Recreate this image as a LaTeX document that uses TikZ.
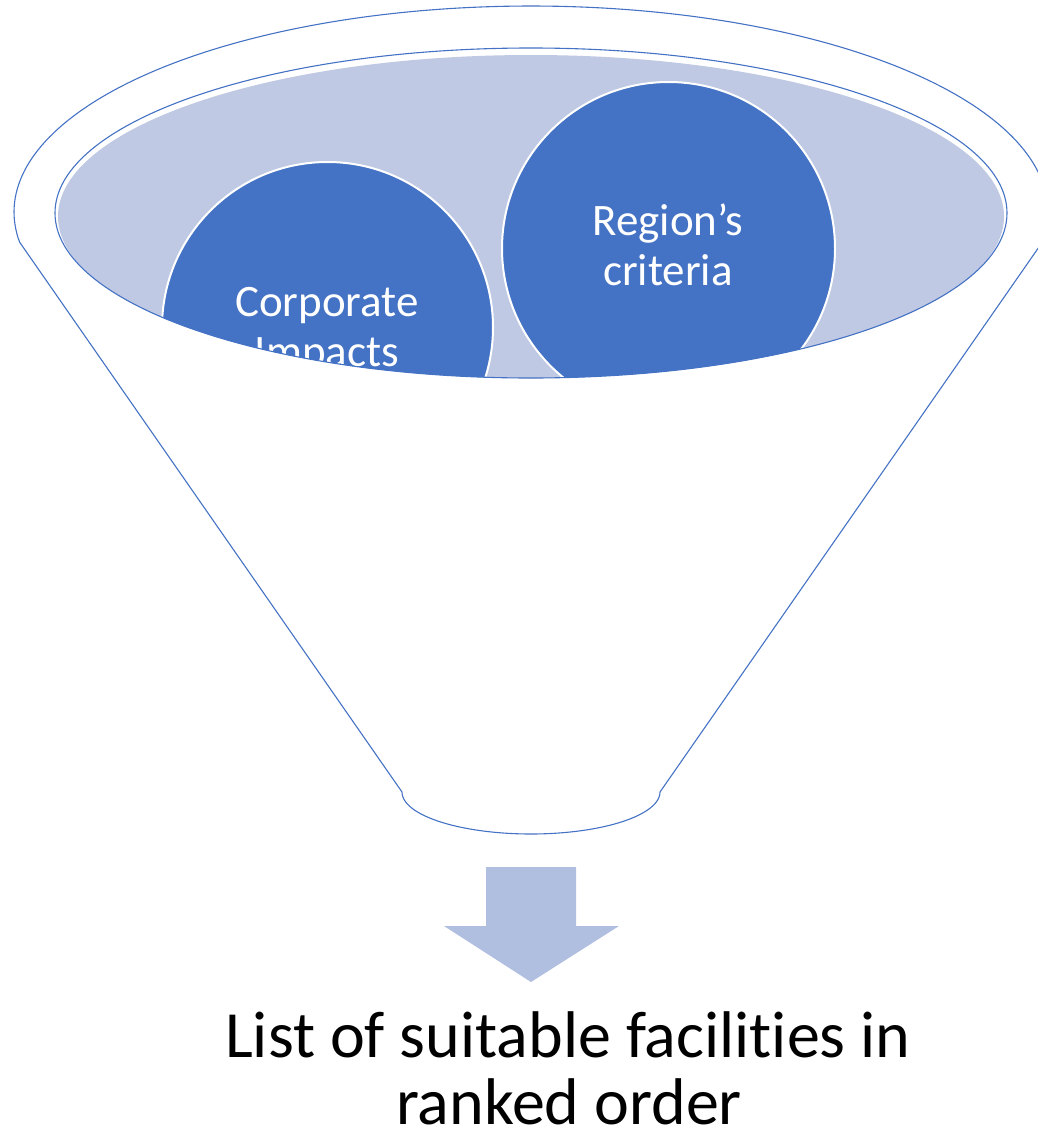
\documentclass[tikz,border=0pt]{standalone}
\usepackage{fontspec}
\setmainfont[Ligatures={NoCommon},RawFeature={-liga;-clig;-dlig}]{Carlito}
\definecolor{accent}{HTML}{4472C4}
\definecolor{lightfill}{HTML}{BFC9E3}
\definecolor{arrowfill}{HTML}{B0BEE0}
\tikzset{
  funnelline/.style={draw=accent, line width=1.1pt, line join=round},
  circstyle/.style={circle, fill=accent, draw=white, line width=2pt, inner sep=0pt},
  circtext/.style={text=white, inner sep=0pt, anchor=base, font=\fontsize{45}{50}\selectfont},
  captext/.style={text=black, inner sep=0pt, anchor=base, font=\fontsize{66}{70}\selectfont}
}
\begin{document}
\begin{tikzpicture}[x=1pt,y=-1pt]
\useasboundingbox (0,0) rectangle (1038,1135);
% outer funnel
\draw[funnelline] (402,792) -- (19.5,242)
  -- plot[domain=171.63:368.37, samples=160, variable=\t] ({531+517*cos(\t)},{212+206*sin(\t)})
  -- (660,792)
  -- plot[domain=0:180, samples=80, variable=\t] ({531+129*cos(\t)},{792+42*sin(\t)})
  -- cycle;
% inner rim
\fill[white] (531,213) ellipse [x radius=476pt, y radius=165pt];
\fill[lightfill] (531,216.5) ellipse [x radius=473pt, y radius=161.5pt];
\begin{scope}
  \clip (531,213) ellipse [x radius=476pt, y radius=165pt];
  \node[circstyle, minimum size=331pt] (corp) at (327.5,327.5) {};
  \node[circstyle, minimum size=333pt] (region) at (668.5,248.5) {};
  \node[circtext] (corp1) at (327,316) {Corporate};
  \node[circtext] (corp2) at (327,366) {Impacts};
  \node[circtext] (reg1) at (668,235) {Region’s};
  \node[circtext] (reg2) at (668,285) {criteria};
\end{scope}
\draw[funnelline] (531,213) ellipse [x radius=476pt, y radius=165pt];
% arrow
\fill[arrowfill] (486,867) -- (576,867) -- (576,926) -- (619,926) -- (531,982) -- (444,926) -- (486,926) -- cycle;
% caption
\node[captext] (cap1) at (568,1057) {List of suitable facilities in};
\node[captext] (cap2) at (569,1124) {ranked order};
\end{tikzpicture}
\end{document}
